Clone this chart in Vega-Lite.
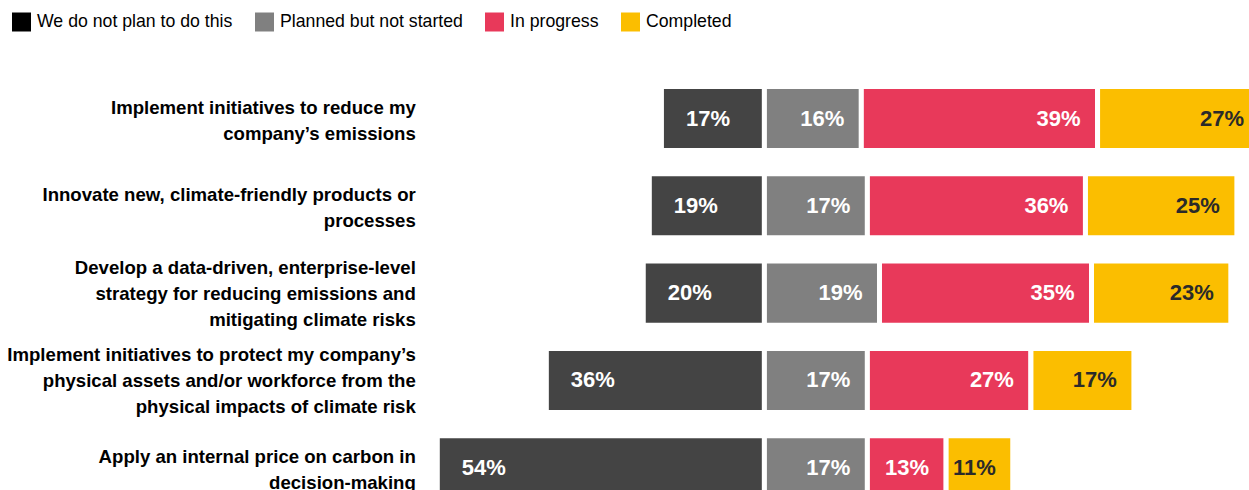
{
  "$schema": "https://vega.github.io/schema/vega-lite/v6.json",
  "autosize": {"type": "none"},
  "padding": {"left": 437.3, "top": 75, "right": 0, "bottom": 0},
  "width": 811.7,
  "height": 415,
  "background": "white",
  "config": {"view": {"stroke": null}, "font": "Liberation Sans"},
  "data": {"values": [
    {"task": "Implement initiatives to reduce my|company’s emissions", "status": "We do not plan to do this", "pct": 17},
    {"task": "Implement initiatives to reduce my|company’s emissions", "status": "Planned but not started", "pct": 16},
    {"task": "Implement initiatives to reduce my|company’s emissions", "status": "In progress", "pct": 39},
    {"task": "Implement initiatives to reduce my|company’s emissions", "status": "Completed", "pct": 27},
    {"task": "Innovate new, climate-friendly products or|processes", "status": "We do not plan to do this", "pct": 19},
    {"task": "Innovate new, climate-friendly products or|processes", "status": "Planned but not started", "pct": 17},
    {"task": "Innovate new, climate-friendly products or|processes", "status": "In progress", "pct": 36},
    {"task": "Innovate new, climate-friendly products or|processes", "status": "Completed", "pct": 25},
    {"task": "Develop a data-driven, enterprise-level|strategy for reducing emissions and|mitigating climate risks", "status": "We do not plan to do this", "pct": 20},
    {"task": "Develop a data-driven, enterprise-level|strategy for reducing emissions and|mitigating climate risks", "status": "Planned but not started", "pct": 19},
    {"task": "Develop a data-driven, enterprise-level|strategy for reducing emissions and|mitigating climate risks", "status": "In progress", "pct": 35},
    {"task": "Develop a data-driven, enterprise-level|strategy for reducing emissions and|mitigating climate risks", "status": "Completed", "pct": 23},
    {"task": "Implement initiatives to protect my company’s|physical assets and/or workforce from the|physical impacts of climate risk", "status": "We do not plan to do this", "pct": 36},
    {"task": "Implement initiatives to protect my company’s|physical assets and/or workforce from the|physical impacts of climate risk", "status": "Planned but not started", "pct": 17},
    {"task": "Implement initiatives to protect my company’s|physical assets and/or workforce from the|physical impacts of climate risk", "status": "In progress", "pct": 27},
    {"task": "Implement initiatives to protect my company’s|physical assets and/or workforce from the|physical impacts of climate risk", "status": "Completed", "pct": 17},
    {"task": "Apply an internal price on carbon in|decision-making", "status": "We do not plan to do this", "pct": 54},
    {"task": "Apply an internal price on carbon in|decision-making", "status": "Planned but not started", "pct": 17},
    {"task": "Apply an internal price on carbon in|decision-making", "status": "In progress", "pct": 13},
    {"task": "Apply an internal price on carbon in|decision-making", "status": "Completed", "pct": 11}
  ]},
  "transform": [
    {"calculate": "datum.status === 'We do not plan to do this' ? -datum.pct : datum.pct", "as": "signed"},
    {"calculate": "indexof(['We do not plan to do this','Planned but not started','In progress','Completed'], datum.status)", "as": "ord"},
    {"calculate": "datum.pct + '%'", "as": "label"},
    {"stack": "signed", "groupby": ["task"], "sort": [{"field": "ord", "order": "ascending"}], "as": ["x0", "x1"]}
  ],
  "encoding": {
    "y": {
      "field": "task",
      "type": "nominal",
      "sort": [
        "Implement initiatives to reduce my|company’s emissions",
        "Innovate new, climate-friendly products or|processes",
        "Develop a data-driven, enterprise-level|strategy for reducing emissions and|mitigating climate risks",
        "Implement initiatives to protect my company’s|physical assets and/or workforce from the|physical impacts of climate risk",
        "Apply an internal price on carbon in|decision-making"
      ],
      "scale": {"range": [0, 436.25], "paddingInner": 0.2665, "paddingOuter": 0.133},
      "axis": {
        "title": null,
        "domain": false,
        "ticks": false,
        "labelFontSize": 18.6,
        "labelFontWeight": "bold",
        "labelColor": "#000000",
        "labelPadding": 22,
        "labelLimit": 600,
        "labelLineHeight": 26,
        "labelOffset": {"condition": {"test": "length(split(datum.value, '|')) >= 3", "value": -25.5}, "value": -11},
        "labelExpr": "split(datum.label, '|')"
      }
    }
  },
  "layer": [
    {
      "mark": {"type": "bar", "stroke": "white", "strokeWidth": 5, "strokeOpacity": 1},
      "encoding": {
        "x": {"field": "x0", "type": "quantitative", "scale": {"domain": [-54, 80], "nice": false, "zero": false}, "axis": null},
        "x2": {"field": "x1"},
        "color": {
          "field": "status",
          "type": "nominal",
          "sort": ["We do not plan to do this", "Planned but not started", "In progress", "Completed"],
          "scale": {
            "domain": ["We do not plan to do this", "Planned but not started", "In progress", "Completed"],
            "range": ["#000000", "#808080", "#E8395A", "#FBBE00"]
          },
          "legend": {
            "title": null,
            "orient": "none",
            "direction": "horizontal",
            "legendX": -425.3,
            "legendY": -62.5,
            "symbolType": "square",
            "symbolSize": 361,
            "symbolStrokeWidth": 0,
            "symbolOpacity": 1,
            "labelFontSize": 17.7,
            "labelColor": "#000000",
            "labelOffset": 6,
            "labelLimit": 400,
            "columnPadding": 22,
            "padding": 0
          }
        },
        "fillOpacity": {"condition": {"test": "datum.status === 'We do not plan to do this'", "value": 0.733}, "value": 1}
      }
    },
    {
      "transform": [{"filter": "datum.status === 'We do not plan to do this'"}],
      "mark": {"type": "text", "align": "left", "baseline": "middle", "dx": 24.5, "fontSize": 22, "fontWeight": "bold", "fill": "white"},
      "encoding": {
        "x": {"field": "x1", "type": "quantitative"},
        "text": {"field": "label"}
      }
    },
    {
      "transform": [{"filter": "datum.status !== 'We do not plan to do this'"}],
      "mark": {"type": "text", "align": "right", "baseline": "middle", "dx": -17, "fontSize": 22, "fontWeight": "bold"},
      "encoding": {
        "x": {"field": "x1", "type": "quantitative"},
        "text": {"field": "label"},
        "fill": {"condition": {"test": "datum.status === 'Completed'", "value": "#2a2a2a"}, "value": "#ffffff"}
      }
    }
  ]
}
